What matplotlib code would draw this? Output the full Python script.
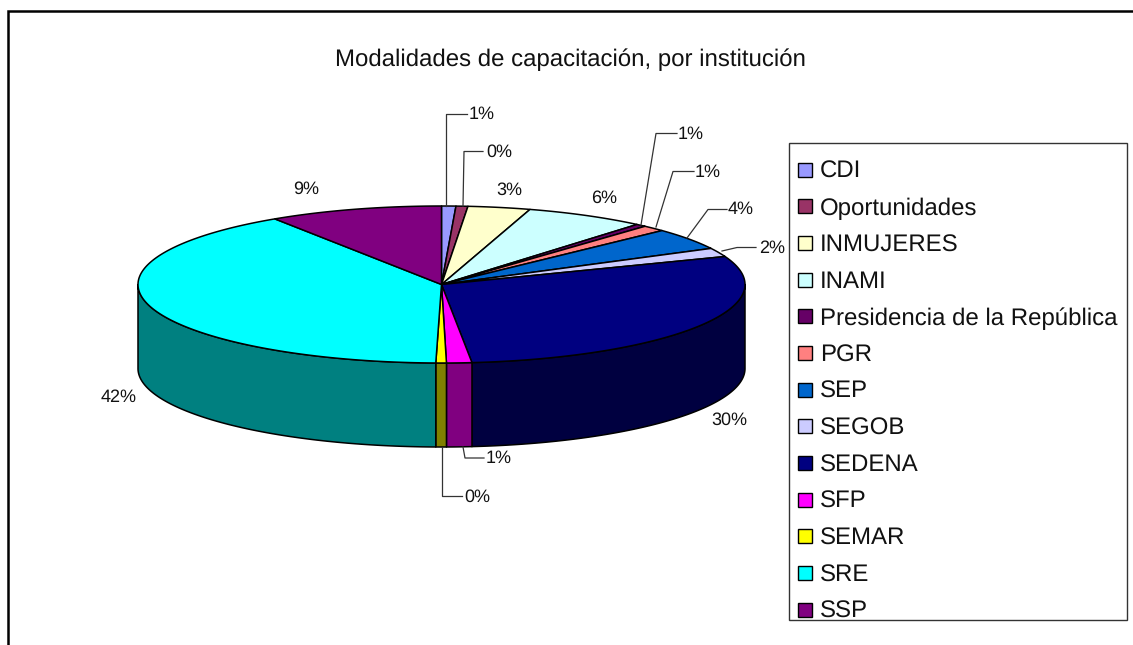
import numpy as np
import matplotlib
matplotlib.use("Agg")
import matplotlib.pyplot as plt
from matplotlib.patches import Polygon, Rectangle

plt.rcParams['font.family'] = ['Liberation Sans', 'DejaVu Sans']
plt.rcParams['text.hinting'] = 'none'
plt.rcParams['text.hinting_factor'] = 1

title = "Modalidades de capacitación, por institución"
categories = ["CDI", "Oportunidades", "INMUJERES", "INAMI", "Presidencia de la República",
              "PGR", "SEP", "SEGOB", "SEDENA", "SFP", "SEMAR", "SRE", "SSP"]
values = [0.76, 0.63, 3.32, 6.43, 0.56, 1.25, 4.45, 1.80, 29.2, 1.34, 0.56, 40.45, 9.25]
pct_labels = ["1%", "0%", "3%", "6%", "1%", "1%", "4%", "2%", "30%", "1%", "0%", "42%", "9%"]
top_colors = ["#9999FF", "#993366", "#FFFFCC", "#CCFFFF", "#660066", "#FF8080", "#0066CC",
              "#CCCCFF", "#000080", "#FF00FF", "#FFFF00", "#00FFFF", "#800080"]
side_colors = ["#4D4D80", "#4D1A33", "#808066", "#668080", "#330033", "#804040", "#003366",
               "#666680", "#000040", "#800080", "#808000", "#008080", "#400040"]
# label centre (x, y) and optional leader elbow points, in pixels
label_pos = [(482, 114), (499, 152), (509, 190), (604, 198), (691, 134), (708, 172),
             (741, 209), (772, 248), (729, 420), (499, 458.5), (477, 497), (119, 397), (306, 189)]
leaders = [[(446, 206), (446, 113.5), (467, 113.5)],
           [(463, 206), (464, 151.5), (483, 151.5)],
           None, None,
           [(641, 225), (656, 133.5), (677, 133.5)],
           [(656, 227), (673, 171.5), (694, 171.5)],
           [(687, 238), (708, 209.5), (727, 209.5)],
           [(722, 251), (737, 247.5), (756, 247.5)],
           None,
           [(463, 447), (465, 458), (484, 458)],
           [(442, 447), (442, 496), (462, 496)],
           None, None]

CX, CY, RX, RY, DEPTH = 441.5, 284.5, 303.5, 78.5, 84

fig = plt.figure(figsize=(11.33, 6.45), dpi=100)
ax = fig.add_axes([0, 0, 1, 1])
ax.set_xlim(0, 1133)
ax.set_ylim(645, 0)
ax.axis('off')

# chart frame (only top and left edges are visible in the crop)
ax.plot([8, 8, 1133], [645, 11, 11], color='black', lw=1.8, solid_joinstyle='miter')

ax.text(570, 60, title, ha='center', va='center', fontsize=17.2, color='#111111')


def rim(a0, a1, dy=0.0):
    t = np.radians(np.linspace(a0, a1, max(int(abs(a1 - a0) * 2), 2)))
    return np.column_stack([CX + RX * np.sin(t), CY + dy - RY * np.cos(t)])


edges = np.concatenate([[0], np.cumsum(values)]) / np.sum(values) * 360
# visible sides (front half)
for a0, a1, c in zip(edges[:-1], edges[1:], side_colors):
    lo, hi = max(a0, 90), min(a1, 270)
    if hi <= lo:
        continue
    pts = np.vstack([rim(lo, hi), rim(hi, lo, DEPTH)])
    ax.add_patch(Polygon(pts, closed=True, fc=c, ec='black', lw=1.1, joinstyle='round', zorder=2))
# top face
for a0, a1, c in zip(edges[:-1], edges[1:], top_colors):
    pts = np.vstack([[CX, CY], rim(a0, a1)])
    ax.add_patch(Polygon(pts, closed=True, fc=c, ec='black', lw=1.1, joinstyle='round', zorder=3))

# percent labels and leaders
for lab, (x, y), ld in zip(pct_labels, label_pos, leaders):
    ax.text(x, y, lab, ha='center', va='center', fontsize=13.2, color='#111111', zorder=6)
    if ld:
        xs, ys = zip(*ld)
        ax.plot(xs, ys, color='#333333', lw=0.9, zorder=5)

# legend
ax.add_patch(Rectangle((789, 143), 338, 476.5, fc='white', ec='#333333', lw=1.0, zorder=4))
for i, (name, c) in enumerate(zip(categories, top_colors)):
    y = 169.5 + i * 36.67
    ax.add_patch(Rectangle((798, y - 7), 14, 14, fc=c, ec='black', lw=1.0, zorder=5))
    ax.text(820, y, name, ha='left', va='center_baseline', fontsize=17.0, color='#111111', zorder=5)

fig.savefig("out.png", dpi=100, facecolor='white')
